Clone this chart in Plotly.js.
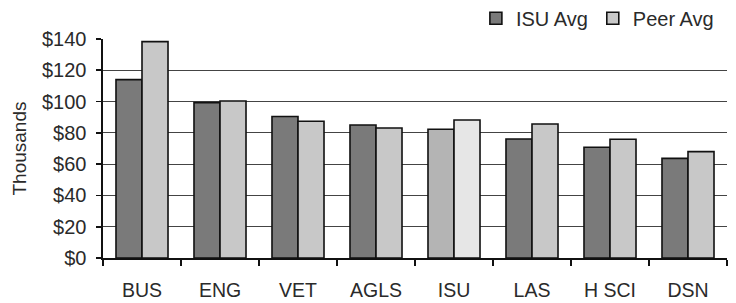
<!DOCTYPE html>
<html>
<head>
<meta charset="utf-8">
<script src="https://cdn.plot.ly/plotly-3.0.1.min.js"></script>
<style>html,body{margin:0;padding:0;background:#fff;}#chart{width:736px;height:303px;}</style>
</head>
<body>
<div id="chart"></div>
<script>
const categories = ["BUS", "ENG", "VET", "AGLS", "ISU", "LAS", "H SCI", "DSN"];
const isuAvg = [114, 99.3, 90.5, 85, 82.3, 76.1, 70.8, 63.7];
const peerAvg = [138.3, 100.4, 87.4, 83.1, 88.2, 85.7, 75.9, 68];
const yTickVals = [0, 20, 40, 60, 80, 100, 120, 140];
const yTickText = ["$0", "$20", "$40", "$60", "$80", "$100", "$120", "$140"];

const isuColor = "#7a7a7a", peerColor = "#c8c8c8";
const isuHi = "#b4b4b4", peerHi = "#e6e6e6";
const isuColors = categories.map(c => c === "ISU" ? isuHi : isuColor);
const peerColors = categories.map(c => c === "ISU" ? peerHi : peerColor);

const fam = "Liberation Sans, Arial, sans-serif";
const txt = "#2a2a2a";

const traces = [
  {type: "bar", name: "ISU Avg", x: categories, y: isuAvg,
   marker: {color: isuColors, line: {color: "#111", width: 1.6}}},
  {type: "bar", name: "Peer Avg", x: categories, y: peerAvg,
   marker: {color: peerColors, line: {color: "#111", width: 1.6}}}
];

const layout = {
  width: 736, height: 303,
  margin: {l: 103, r: 9, t: 39, b: 45, autoexpand: false},
  paper_bgcolor: "#fff", plot_bgcolor: "#fff",
  font: {family: fam, size: 19.5, color: txt},
  barmode: "group", bargap: 0.333, bargroupgap: 0,
  showlegend: true,
  legend: {orientation: "h", x: 0.987, xanchor: "right", y: 1.095, yanchor: "middle",
           font: {family: fam, size: 20, color: txt}, itemwidth: 20, traceorder: "normal",
           bgcolor: "rgba(0,0,0,0)"},
  xaxis: {type: "category", tickson: "boundaries", ticks: "outside", ticklen: 6,
          tickwidth: 1.6, tickcolor: "#111", showline: true, linecolor: "#111", linewidth: 1.6,
          showgrid: false, ticklabelstandoff: 14,
          tickfont: {family: fam, size: 19.5, color: txt}, automargin: false},
  yaxis: {range: [0, 140], tickvals: yTickVals, ticktext: yTickText,
          ticks: "outside", ticklen: 5, tickwidth: 1.6, tickcolor: "#111",
          showline: true, linecolor: "#111", linewidth: 1.6,
          showgrid: true, gridcolor: "#444", gridwidth: 1, zeroline: false,
          ticklabelstandoff: 6,
          tickfont: {family: fam, size: 20, color: txt},
          title: {text: "Thousands", font: {family: fam, size: 19, color: txt}, standoff: 10},
          automargin: false}
};

Plotly.newPlot("chart", traces, layout, {displayModeBar: false, staticPlot: true});
</script>
</body>
</html>
